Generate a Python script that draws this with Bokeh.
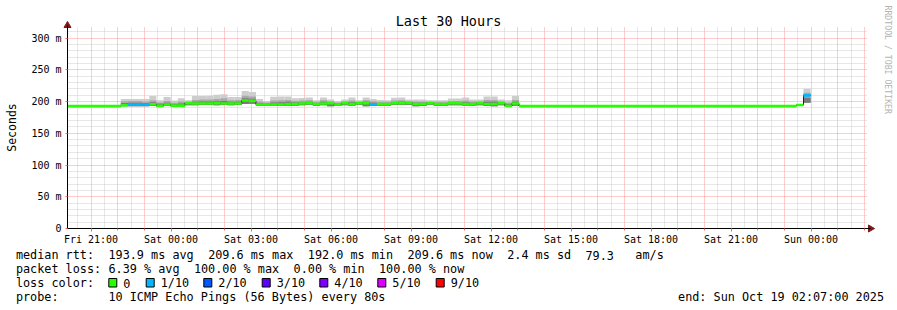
import math
import pandas as pd
from bokeh.plotting import figure
from bokeh.models import (Range1d, FixedTicker, CustomJSTickFormatter,
                          DatetimeTickFormatter, Label, BoxAnnotation,
                          ColumnDataSource)
from bokeh.embed import file_html
from bokeh.resources import INLINE

NaN = float("nan")

# ------------------------------------------------------------------ data
# 16-minute consolidated steps with visible smoke, starting Fri 22:07
detail_first = "2025-10-17 22:07"
median_rtt = [194.2, 195.2, 195.2, 195.2, 195.7, 193.1, 195.2, 193.6, 193.6, 197.3,
              196.8, 196.8, 196.8, 197.3, 196.8, 196.8, 196.8, 201.5, 201.0, 195.2,
              195.2, 195.2, 195.2, 196.2, 196.2, 196.8, 197.3, 196.2, 196.8, 197.3,
              195.2, 197.3, 196.2, 197.3, 197.3, 195.7, 196.2, 196.2, 197.3, 197.3,
              197.8, 196.2, 196.2, 197.3, 196.2, 196.2, 197.3, 197.3, 196.2, 196.2,
              197.3, 196.2, 196.2, 197.3, 193.1, 196.8]
loss_tenths = [0, 1, 1, 1, 0, 0, 0, 0, 0, 0,
               0, 0, 0, 0, 0, 0, 0, 0, 0, 0,
               0, 0, 0, 0, 0, 0, 0, 0, 0, 0,
               0, 0, 0, 0, 0, 1, 0, 0, 0, 0,
               0, 0, 0, 0, 0, 0, 0, 0, 0, 0,
               0, 0, 0, 0, 0, 0]
smoke_lo = [192.5, 192.5, 192.5, 192.5, 193.0, 192.0, 193.0, 192.0, 192.0, 194.0,
            194.0, 194.5, 194.5, 194.0, 194.5, 194.0, 194.5, 196.0, 196.5, 193.0,
            193.0, 193.0, 193.0, 193.5, 193.5, 194.0, 194.5, 193.5, 194.0, 192.5,
            193.0, 194.0, 193.5, 194.5, 192.5, 193.0, 193.5, 193.5, 194.5, 194.5,
            194.5, 192.5, 193.0, 194.5, 193.5, 193.5, 194.0, 194.0, 193.5, 193.5,
            194.0, 193.0, 192.5, 194.0, 192.0, 193.5]
smoke_dark = [197.5, 198.0, 198.0, 197.5, 199.0, 196.5, 198.0, 196.0, 197.0, 198.5,
              199.5, 200.0, 200.0, 200.5, 201.0, 199.5, 199.5, 205.0, 204.5, 197.5,
              197.0, 198.5, 199.0, 199.5, 198.5, 199.0, 199.5, 197.5, 199.5, 198.5,
              197.0, 198.5, 199.0, 198.5, 199.5, 198.0, 197.5, 197.5, 199.0, 199.5,
              199.0, 198.0, 198.0, 198.5, 197.5, 197.5, 199.0, 199.0, 199.0, 198.0,
              198.5, 199.5, 199.5, 198.5, 196.0, 199.5]
smoke_mid = [200.5, 201.0, 201.0, 200.0, 202.0, 198.5, 201.0, 198.0, 200.0, 200.0,
             202.5, 203.0, 203.0, 204.0, 205.0, 202.0, 202.5, 209.0, 208.0, 200.0,
             198.5, 201.5, 202.0, 202.5, 201.0, 201.5, 202.0, 199.5, 202.0, 200.5,
             198.5, 200.5, 201.5, 200.0, 202.0, 200.5, 199.5, 199.5, 201.5, 202.0,
             200.5, 200.0, 200.0, 200.0, 199.5, 199.5, 201.0, 201.0, 201.5, 200.0,
             200.5, 202.5, 202.5, 200.5, 198.0, 202.5]
smoke_hi = [204.0, 204.0, 204.0, 204.0, 208.5, 202.0, 207.0, 201.5, 205.0, 202.0,
            208.5, 208.5, 209.0, 210.5, 211.5, 207.0, 207.0, 216.5, 215.0, 204.0,
            201.0, 207.5, 208.0, 208.0, 205.0, 205.5, 206.2, 202.0, 206.2, 203.0,
            201.0, 203.1, 206.2, 202.0, 206.2, 204.0, 202.5, 202.0, 206.0, 206.2,
            203.1, 203.1, 203.1, 202.0, 202.0, 202.0, 204.7, 204.7, 206.2, 203.1,
            203.1, 208.0, 208.0, 203.1, 202.0, 208.5]

# periods where every ping returned the same rtt (no smoke)
flat_start = ["2025-10-17 20:07", "2025-10-18 13:03"]
flat_end = ["2025-10-17 22:07", "2025-10-18 23:27"]
flat_rtt = [192.8, 192.8]

# last two steps before the data stops
tail_start = ["2025-10-18 23:27", "2025-10-18 23:43"]
tail_end = ["2025-10-18 23:43", "2025-10-18 23:59"]
tail_rtt = [194.6, 209.6]
tail_loss = [0, 1]
tail_lo = [NaN, 198.0]
tail_dark = [NaN, 206.0]
tail_mid = [NaN, 214.0]
tail_hi = [NaN, 220.0]

range_start = "2025-10-17 20:07"
range_end = "2025-10-19 02:07"
x_label_times = ["2025-10-17 21:00", "2025-10-18 00:00", "2025-10-18 03:00",
                 "2025-10-18 06:00", "2025-10-18 09:00", "2025-10-18 12:00",
                 "2025-10-18 15:00", "2025-10-18 18:00", "2025-10-18 21:00",
                 "2025-10-19 00:00"]
y_major_ticks = [0, 50, 100, 150, 200, 250, 300]
y_minor_ticks = [10, 20, 30, 40, 60, 70, 80, 90, 110, 120, 130, 140, 160, 170, 180,
                 190, 210, 220, 230, 240, 260, 270, 280, 290, 310]
y_max = 315

loss_legend = ["0", "1/10", "2/10", "3/10", "4/10", "5/10", "9/10"]
loss_legend_colors = ["#26ff00", "#00b8ff", "#0059ff", "#5e00ff", "#7e00ff", "#dd00ff", "#ff0000"]
loss_color_of = {0: "#26ff00", 1: "#00b8ff", 2: "#0059ff", 3: "#5e00ff",
                 4: "#7e00ff", 5: "#dd00ff", 9: "#ff0000"}

rtt_stats = ["193.9 ms avg", "209.6 ms max", "192.0 ms min", "209.6 ms now",
             "2.4 ms sd", "79.3", "am/s"]
loss_stats = ["6.39 % avg", "100.00 % max", "0.00 % min", "100.00 % now"]
probe_text = "10 ICMP Echo Pings (56 Bytes) every 80s"
end_text = "end: Sun Oct 19 02:07:00 2025"
title_text = "Last 30 Hours"

# ------------------------------------------------------------------ table
detail_starts = pd.date_range(detail_first, periods=len(median_rtt), freq="16min")
detail_ends = detail_starts + pd.Timedelta(minutes=16)

rows = []
for s, e, m in zip(flat_start, flat_end, flat_rtt):
    rows.append(dict(start=pd.Timestamp(s), end=pd.Timestamp(e), med=m, loss=0,
                     lo=NaN, dark=NaN, mid=NaN, hi=NaN))
for i in range(len(median_rtt)):
    rows.append(dict(start=detail_starts[i], end=detail_ends[i], med=median_rtt[i],
                     loss=loss_tenths[i], lo=smoke_lo[i], dark=smoke_dark[i],
                     mid=smoke_mid[i], hi=smoke_hi[i]))
for i in range(len(tail_rtt)):
    rows.append(dict(start=pd.Timestamp(tail_start[i]), end=pd.Timestamp(tail_end[i]),
                     med=tail_rtt[i], loss=tail_loss[i], lo=tail_lo[i],
                     dark=tail_dark[i], mid=tail_mid[i], hi=tail_hi[i]))
df = pd.DataFrame(rows).sort_values("start").reset_index(drop=True)
df["color"] = [loss_color_of[v] for v in df["loss"]]
smoke = df[df["lo"].notna()]

# ------------------------------------------------------------------ layout
W, H = 897, 310
PL, PT, PW, PH = 67, 28, 800, 200          # plotting area inside the canvas
t0, t1 = pd.Timestamp(range_start), pd.Timestamp(range_end)
sec_per_px = (t1 - t0).total_seconds() / PW
ms_per_px = y_max / PH

# the frame covers the whole canvas so that every text can be drawn in it
x_lo = t0 - pd.Timedelta(seconds=PL * sec_per_px)
x_hi = t1 + pd.Timedelta(seconds=(W - PL - PW) * sec_per_px)
y_lo = -(H - PT - PH) * ms_per_px
y_hi = y_max + PT * ms_per_px

p = figure(width=W, height=H, x_axis_type="datetime",
           x_range=Range1d(x_lo, x_hi), y_range=Range1d(y_lo, y_hi),
           output_backend="svg", toolbar_location=None, title=None)
p.min_border = 0
p.min_border_left = 0
p.min_border_right = 0
p.min_border_top = 0
p.min_border_bottom = 0
p.outline_line_color = None
p.background_fill_color = "white"
p.border_fill_color = "white"


def ms(ts):
    return pd.Timestamp(ts).value // 10**6


hours = pd.date_range("2025-10-17 21:00", "2025-10-19 02:00", freq="1h")
halves = pd.date_range("2025-10-17 20:30", "2025-10-19 01:30", freq="1h")
grid_top = y_max + 1.5 * ms_per_px

# ------------------------------------------------------------------ grids
GRID_RED = "#ff8080"
GRID_GREY = "#c4c4c4"
xg = p.xgrid[0]
yg = p.ygrid[0]
xg.ticker = FixedTicker(ticks=[ms(t) for t in hours], minor_ticks=[ms(t) for t in halves])
xg.bounds = (ms(t0), ms(t1))
yg.bounds = (0, y_max)
use_cross = True
try:
    xg.cross_bounds = (0, grid_top)
    yg.cross_bounds = (ms(t0), ms(t1))
except Exception:
    use_cross = False

if use_cross:
    for g in (xg, yg):
        g.grid_line_color = GRID_RED
        g.grid_line_dash = "1 1"
        g.grid_line_alpha = 0.8
        g.minor_grid_line_color = GRID_GREY
        g.minor_grid_line_dash = "1 1"
        g.minor_grid_line_alpha = 0.8
else:
    xg.visible = False
    yg.visible = False
    p.segment(x0=list(halves), y0=0, x1=list(halves), y1=grid_top,
              line_color=GRID_GREY, line_dash="1 1", line_alpha=0.8)
    p.segment(x0=list(hours), y0=0, x1=list(hours), y1=grid_top,
              line_color=GRID_RED, line_dash="1 1", line_alpha=0.8)
    p.segment(x0=t0, y0=y_minor_ticks, x1=t1, y1=y_minor_ticks,
              line_color=GRID_GREY, line_dash="1 1", line_alpha=0.8)
    p.segment(x0=t0, y0=y_major_ticks, x1=t1, y1=y_major_ticks,
              line_color=GRID_RED, line_dash="1 1", line_alpha=0.8)

# ------------------------------------------------------------------ data marks
ss = ColumnDataSource(smoke)
p.quad(left="start", right="end", bottom="lo", top="hi", source=ss,
       fill_color="#cdcdcd", line_color=None)
p.quad(left="start", right="end", bottom="lo", top="mid", source=ss,
       fill_color="#a9a9a9", line_color=None)
p.quad(left="start", right="end", bottom="lo", top="dark", source=ss,
       fill_color="#7a7a7a", line_color=None)

step_x = list(df["start"]) + [df["end"].iloc[-1]]
step_y = list(df["med"]) + [df["med"].iloc[-1]]
p.step(x=step_x, y=step_y, mode="after", line_color="#202020", line_width=1)

p.segment(x0="start", y0="med", x1="end", y1="med", source=ColumnDataSource(df),
          line_color="color", line_width=2.6, line_cap="butt")

# ------------------------------------------------------------------ axes
xax = p.xaxis[0]
yax = p.yaxis[0]
xax.fixed_location = 0
yax.fixed_location = ms(t0)
x_arrow_end = t1 + pd.Timedelta(seconds=3 * sec_per_px)
y_arrow_end = y_max + 3 * ms_per_px
xax.bounds = (ms(t0), ms(x_arrow_end))
yax.bounds = (0, y_arrow_end)

xax.ticker = FixedTicker(ticks=[ms(t) for t in x_label_times],
                         minor_ticks=[ms(t) for t in hours])
fmt = "%a %H:%M"
xax.formatter = DatetimeTickFormatter(hours=fmt, hourmin=fmt, days=fmt,
                                      minutes=fmt, months=fmt, boundary_scaling=False)

yax.ticker = FixedTicker(ticks=y_major_ticks, minor_ticks=y_minor_ticks)
yax.formatter = CustomJSTickFormatter(
    code="return tick == 0 ? '0' : tick.toFixed(0) + ' m';")

for ax in (xax, yax):
    ax.axis_line_color = "#000000"
    ax.axis_line_width = 1
    ax.major_label_text_font = "DejaVu Sans Mono"
    ax.major_label_text_font_size = "10px"
    ax.major_label_text_color = "#000000"
    ax.major_tick_line_color = "#ff6060"
    ax.minor_tick_line_color = "#ff6060"
    ax.major_tick_in = 0
    ax.minor_tick_in = 0

xax.major_tick_out = 3
xax.minor_tick_out = 2
xax.major_label_standoff = 2
yax.major_tick_out = 2
yax.minor_tick_out = 0
yax.major_label_standoff = 4

# arrow heads at the ends of the axes
head_col = "#7f1818"
p.scatter(x=[x_arrow_end], y=[0], marker="triangle", size=7, angle=-math.pi / 2,
          fill_color=head_col, line_color=head_col)
p.scatter(x=[t0], y=[y_arrow_end], marker="triangle", size=7,
          fill_color=head_col, line_color=head_col)

# ------------------------------------------------------------------ texts
MONO = "DejaVu Sans Mono"


def put(x, y, s, size="11.8px", color="#000000", align="left", angle=0.0):
    p.add_layout(Label(x=x, y=H - y, x_units="screen", y_units="screen",
                       text=s, text_font=MONO, text_font_size=size,
                       text_color=color, text_align=align,
                       text_baseline="middle", angle=angle))


put(448, 20, title_text, size="13.5px", align="center")
put(11, 127, "Seconds", size="11.5px", align="center", angle=math.pi / 2)
put(887, 5, "RRDTOOL / TOBI OETIKER", size="8.2px", color="#b4b4b4",
    angle=-math.pi / 2)

X0, CW = 15.4, 7.12
row_y = [254.5, 268.5, 282.5, 296.5]

put(X0, row_y[0], "median rtt:")
for col, s in zip([13, 27, 41, 55, 69, 80, 87], rtt_stats):
    put(X0 + CW * col, row_y[0], s)

put(X0, row_y[1], "packet loss:")
for col, s in zip([13, 25, 39, 51], loss_stats):
    put(X0 + CW * col, row_y[1], s)

put(X0, row_y[2], "loss color:")
box_x = [108.3, 145.7, 203.3, 261.7, 319.3, 377.3, 435.7]
for bx, lab, col in zip(box_x, loss_legend, loss_legend_colors):
    p.add_layout(BoxAnnotation(left=bx, right=bx + 8, bottom=H - 286.5, top=H - 278.0,
                               left_units="screen", right_units="screen",
                               bottom_units="screen", top_units="screen",
                               fill_color=col, fill_alpha=1.0,
                               line_color="#000000", line_width=1, line_alpha=1.0))
    put(bx + 14.5, row_y[2], lab)

put(X0, row_y[3], "probe:")
put(X0 + CW * 13, row_y[3], probe_text)
put(X0 + CW * 93, row_y[3], end_text)

open("out.html", "w").write(file_html(p, INLINE))
